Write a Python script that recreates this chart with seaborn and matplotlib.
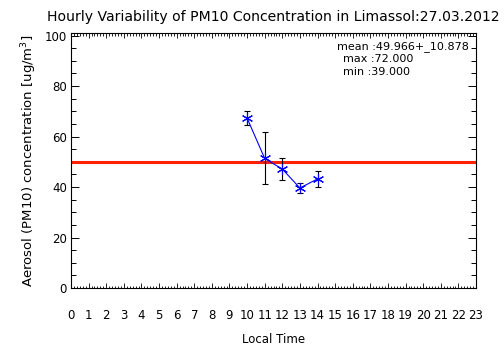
import matplotlib
matplotlib.use("Agg")
import matplotlib.pyplot as plt
import numpy as np
import pandas as pd
import seaborn as sns
from matplotlib.ticker import AutoMinorLocator, MultipleLocator

# hourly means and standard deviations
hours = [10, 11, 12, 13, 14]
pm10_mean = [67.3, 51.3, 47.1, 39.6, 43.2]
pm10_std = [2.8, 10.3, 4.3, 1.9, 3.2]
daily_mean = 49.966
daily_std = 10.878
daily_max = 72.0
daily_min = 39.0
hour_labels = [str(h) for h in range(24)]

sns.set_style("white")
plt.rcParams["font.family"] = ["DejaVu Sans"]
plt.rcParams["text.color"] = "black"
plt.rcParams["axes.labelcolor"] = "black"
plt.rcParams["xtick.color"] = "black"
plt.rcParams["ytick.color"] = "black"

df = pd.DataFrame({"hour": hours, "pm10": pm10_mean, "std": pm10_std})

fig = plt.figure(figsize=(5.04, 3.61), dpi=100)
ax = fig.add_axes([71 / 504, 1 - 288 / 361, (476 - 71) / 504, (288 - 33) / 361])

ax.axhline(daily_mean, color="#ff2000", lw=2.2, zorder=1)
ax.errorbar(df["hour"], df["pm10"], yerr=df["std"], fmt="none",
            ecolor="black", elinewidth=0.8, capsize=2.2, capthick=0.8, zorder=2)
sns.lineplot(data=df, x="hour", y="pm10", ax=ax, color="blue", lw=0.8,
             marker=(6, 2, 0), markersize=8, markeredgecolor="blue",
             markeredgewidth=0.8, zorder=3)

ax.set_xlim(0, 23)
ax.set_ylim(0, 101)
ax.xaxis.set_minor_locator(AutoMinorLocator(6))
ax.yaxis.set_major_locator(MultipleLocator(20))
ax.yaxis.set_minor_locator(AutoMinorLocator(4))
ax.set_xticks(range(24))
ax.set_xticklabels(hour_labels)
ax.tick_params(axis="x", which="both", direction="in", top=True, bottom=True,
               labelsize=8.5, pad=15)
ax.tick_params(axis="x", which="major", length=3.5, width=0.6)
ax.tick_params(axis="x", which="minor", length=1.8, width=0.6)
ax.tick_params(axis="y", which="both", direction="in", left=True, right=True,
               labelsize=8.5, pad=3)
ax.tick_params(axis="y", which="major", length=6, width=0.7)
ax.tick_params(axis="y", which="minor", length=3.5, width=0.7)
for s in ax.spines.values():
    s.set_color("black")
    s.set_linewidth(0.8)

ax.set_xlabel("Local Time", fontsize=8.5, labelpad=8)
ax.set_ylabel("Aerosol (PM10) concentration [ug/m$^3$]", fontsize=9.5, labelpad=4)
ax.set_title("Hourly Variability of PM10 Concentration in Limassol:27.03.2012",
             fontsize=10.1, pad=9)

fig.text(337 / 504, 1 - 47 / 361, f"mean :{daily_mean:.3f}+_{daily_std:.3f}",
         fontsize=8, va="center")
fig.text(343 / 504, 1 - 59 / 361, f"max :{daily_max:.3f}", fontsize=8, va="center")
fig.text(343 / 504, 1 - 72 / 361, f"min :{daily_min:.3f}", fontsize=8, va="center")

fig.savefig("out.png", dpi=100, facecolor="white")
